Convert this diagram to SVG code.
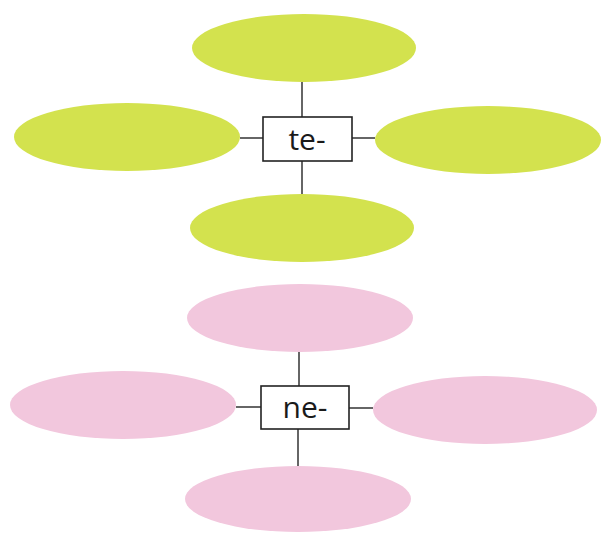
<svg xmlns="http://www.w3.org/2000/svg" width="608" height="536" viewBox="0 0 608 536">
<style>
.g{fill:#d3e24e}
.p{fill:#f2c7dd}
.box{fill:#fff;stroke:#222;stroke-width:1.6}
.c{stroke:#333;stroke-width:1.5;fill:none}
.t{font-family:"Open Sans","Liberation Sans",sans-serif;font-size:30px;fill:#1a1a1a;text-anchor:middle}
</style>
<rect width="608" height="536" fill="#fff"/>
<g id="connectors">
<line class="c" x1="302" y1="82" x2="302" y2="117"/>
<line class="c" x1="302" y1="161" x2="302" y2="194"/>
<line class="c" x1="240" y1="138" x2="263" y2="138"/>
<line class="c" x1="352" y1="138" x2="375" y2="138"/>
<line class="c" x1="299" y1="352" x2="299" y2="386"/>
<line class="c" x1="298" y1="429" x2="298" y2="467"/>
<line class="c" x1="236" y1="407" x2="261" y2="407"/>
<line class="c" x1="349" y1="408" x2="373" y2="408"/>
</g>
<g id="te-top"><ellipse class="g" cx="304" cy="48" rx="112" ry="34"/></g>
<g id="te-left"><ellipse class="g" cx="127" cy="137" rx="113" ry="34"/></g>
<g id="te-right"><ellipse class="g" cx="488" cy="140" rx="113" ry="34"/></g>
<g id="te-bottom"><ellipse class="g" cx="302" cy="228" rx="112" ry="34"/></g>
<g id="te"><rect class="box" x="263" y="117" width="89" height="44"/><text class="t" x="307" y="150">te-</text></g>
<g id="ne-top"><ellipse class="p" cx="300" cy="318" rx="113" ry="34"/></g>
<g id="ne-left"><ellipse class="p" cx="123" cy="405" rx="113" ry="34"/></g>
<g id="ne-right"><ellipse class="p" cx="485" cy="410" rx="112" ry="34"/></g>
<g id="ne-bottom"><ellipse class="p" cx="298" cy="499" rx="113" ry="33"/></g>
<g id="ne"><rect class="box" x="261" y="386" width="88" height="43"/><text class="t" x="305" y="418">ne-</text></g>
</svg>
